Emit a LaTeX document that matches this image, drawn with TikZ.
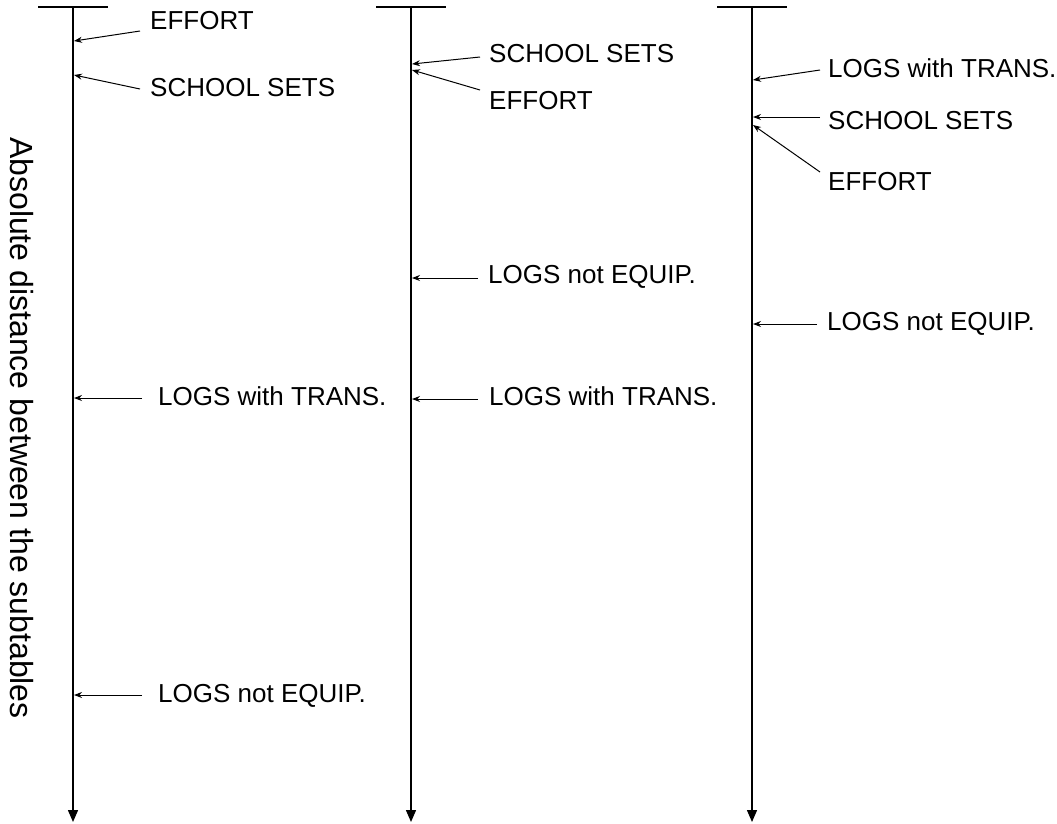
\documentclass[tikz,border=0pt]{standalone}
\usepackage{fontspec}
\setmainfont{Liberation Sans}
\usetikzlibrary{arrows.meta}
\begin{document}
\begin{tikzpicture}[x=1pt,y=-1pt,
 lab/.style={anchor=west,inner sep=0pt,font=\fontsize{26}{30}\selectfont,text height=18.7pt,text depth=0pt},
 axisline/.style={line width=1.4pt,-{Triangle[length=12pt,width=10pt]}},
 topbar/.style={line width=1.2pt},
 ptr/.style={line width=1pt,-{Stealth[length=8pt,width=6pt]}}]
\useasboundingbox (0,0) rectangle (1057,823);
% axes
\foreach \n/\x in {1/73,2/411,3/752}{
  \coordinate (top\n) at (\x,7);
  \coordinate (bot\n) at (\x,822);
  \coordinate (bl\n) at (\x-35,7);
  \coordinate (br\n) at (\x+35,7);
  \draw[axisline] (top\n) -- (bot\n);
  \draw[topbar] (bl\n) -- (br\n);
}
% y label
\node[rotate=-90,inner sep=0pt,font=\fontsize{32}{36}\selectfont] (ylab) at (22,428) {Absolute distance between the subtables};
% axis 1
\node[lab] (e1) at (150,20) {EFFORT};
\node[lab] (s1) at (150,87) {SCHOOL SETS};
\node[lab] (t1) at (158,396) {LOGS with TRANS.};
\node[lab] (n1) at (158,693) {LOGS not EQUIP.};
\coordinate (e1s) at (140,31); \coordinate (e1t) at (74,41);
\coordinate (s1s) at (140,89); \coordinate (s1t) at (74,75);
\coordinate (t1s) at (142,398); \coordinate (t1t) at (74,398);
\coordinate (n1s) at (142,695); \coordinate (n1t) at (74,695);
\draw[ptr] (e1s) -- (e1t);
\draw[ptr] (s1s) -- (s1t);
\draw[ptr] (t1s) -- (t1t);
\draw[ptr] (n1s) -- (n1t);
% axis 2
\node[lab] (s2) at (489,53) {SCHOOL SETS};
\node[lab] (e2) at (489,100) {EFFORT};
\node[lab] (n2) at (488,274) {LOGS not EQUIP.};
\node[lab] (t2) at (489,396) {LOGS with TRANS.};
\coordinate (s2s) at (480,57); \coordinate (s2t) at (412,64);
\coordinate (e2s) at (480,90); \coordinate (e2t) at (412,70);
\coordinate (n2s) at (478,278); \coordinate (n2t) at (412,278);
\coordinate (t2s) at (478,399); \coordinate (t2t) at (412,399);
\draw[ptr] (s2s) -- (s2t);
\draw[ptr] (e2s) -- (e2t);
\draw[ptr] (n2s) -- (n2t);
\draw[ptr] (t2s) -- (t2t);
% axis 3
\node[lab] (t3) at (828,68) {LOGS with TRANS.};
\node[lab] (s3) at (828,120) {SCHOOL SETS};
\node[lab] (e3) at (828,181) {EFFORT};
\node[lab] (n3) at (827,321) {LOGS not EQUIP.};
\coordinate (t3s) at (820,70); \coordinate (t3t) at (753,80);
\coordinate (s3s) at (820,117); \coordinate (s3t) at (753,117);
\coordinate (e3s) at (820,172); \coordinate (e3t) at (753,125);
\coordinate (n3s) at (817,324); \coordinate (n3t) at (753,324);
\draw[ptr] (t3s) -- (t3t);
\draw[ptr] (s3s) -- (s3t);
\draw[ptr] (e3s) -- (e3t);
\draw[ptr] (n3s) -- (n3t);
\end{tikzpicture}
\end{document}
